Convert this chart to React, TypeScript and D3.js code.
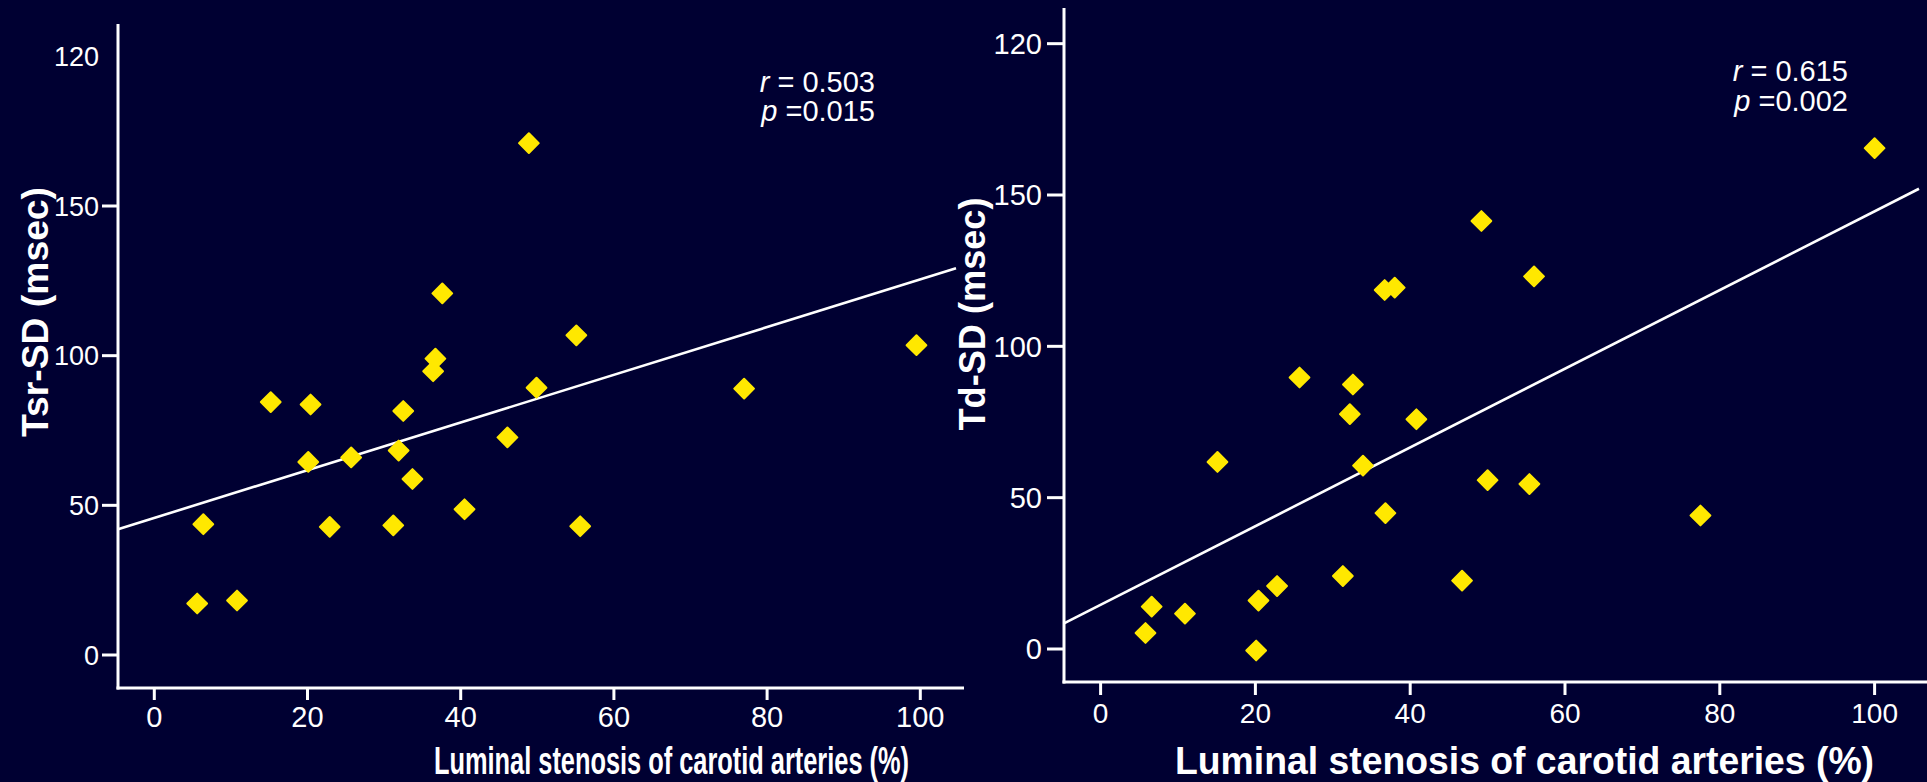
import React from "react";
import * as d3 from "d3";

// ---------- data ----------
const tsrStenosis = [48.9, 37.6, 55.1, 99.5, 36.7, 36.4, 49.9, 77.0, 15.2, 20.4, 32.5, 46.1, 31.9, 25.7, 20.1, 33.7, 40.5, 6.4, 22.9, 31.2, 55.6, 5.6, 10.8];
const tsrValues = [171, 120.8, 106.8, 103.5, 99, 94.8, 89.3, 89, 84.5, 83.7, 81.5, 72.7, 68.3, 66, 64.5, 58.8, 48.7, 43.7, 42.8, 43.3, 43, 17.2, 18.2];

const tdStenosis = [100.0, 49.2, 56.0, 36.7, 38.0, 25.7, 32.6, 32.2, 40.8, 15.1, 33.9, 50.0, 55.4, 36.8, 77.5, 31.3, 46.7, 22.8, 20.4, 6.6, 10.9, 5.8, 20.1];
const tdValues = [165.5, 141.4, 123.1, 118.6, 119.4, 89.7, 87.4, 77.6, 75.9, 61.8, 60.6, 55.8, 54.5, 44.9, 44.1, 24.1, 22.6, 20.8, 16.0, 14.0, 11.7, 5.3, -0.5];

// fitted regression lines [intercept, slope]
const tsrFit = [45.8, 0.797];
const tdFit = [14.6, 1.3];

const xTicks = [0, 20, 40, 60, 80, 100];
const yTicks = [0, 50, 100, 150, 200];
const yTickLabels = ["0", "50", "100", "150", "120"];

const tsrStats = ["0.503", "0.015"];
const tdStats = ["0.615", "0.002"];

const xTitle = "Luminal stenosis of carotid arteries (%)";
const tsrTitle = "Tsr-SD (msec)";
const tdTitle = "Td-SD (msec)";

// ---------- layout ----------
const W = 1927;
const H = 782;
const BG = "#000032";
const FG = "#ffffff";
const MARK = "#ffe800";
const FONT = "'Liberation Sans', Arial, Helvetica, sans-serif";

const panels = [
  {
    xs: tsrStenosis, ys: tsrValues, fit: tsrFit, stats: tsrStats, title: tsrTitle,
    xRange: [154.3, 920.3], yRange: [655, 206],
    axisX: 118, axisTop: 24, axisY: 688, axisRight: 964, fitRight: 956,
    yTickFont: 27, yLabelRight: 99, yTickMarkFrom: 102, topTickMark: false,
    xTickFont: 29, xLabelCenterY: 717, xTickLen: 12,
    yTitleX: 48, yTitleY: 312, yTitleLen: 250,
    xTitleX: 671.5, xTitleY: 774, xTitleLen: 475,
    statsX: 875, statsY: [92, 120.5], statsFont: 29,
  },
  {
    xs: tdStenosis, ys: tdValues, fit: tdFit, stats: tdStats, title: tdTitle,
    xRange: [1100.6, 1874.6], yRange: [649, 195],
    axisX: 1064, axisTop: 8, axisY: 682, axisRight: 1927, fitRight: 1919,
    yTickFont: 29, yLabelRight: 1042, yTickMarkFrom: 1047, topTickMark: true,
    xTickFont: 28, xLabelCenterY: 713, xTickLen: 13,
    yTitleX: 985, yTitleY: 314, yTitleLen: 233,
    xTitleX: 1524.5, xTitleY: 774, xTitleLen: 699,
    statsX: 1848, statsY: [80.5, 110.5], statsFont: 29,
  },
];

const diamond = d3.symbol(d3.symbolSquare, 195)() as string;

function Panel({ p }: { p: (typeof panels)[number] }) {
  const x = d3.scaleLinear().domain([0, 100]).range(p.xRange);
  const y = d3.scaleLinear().domain([0, 150]).range(p.yRange);
  const fitLine = d3
    .line<number>()
    .x((v) => x(v))
    .y((v) => y(p.fit[0] + p.fit[1] * v));
  const fitDomain = [x.invert(p.axisX), x.invert(p.fitRight)];

  return (
    <g>
      {/* regression line */}
      <path d={fitLine(fitDomain) ?? ""} stroke={FG} strokeWidth={2.6} fill="none" />

      {/* points */}
      {p.xs.map((xv, i) => (
        <path
          key={i}
          d={diamond}
          transform={`translate(${x(xv)},${y(p.ys[i])}) rotate(45)`}
          fill={MARK}
          stroke={MARK}
          strokeWidth={2}
          strokeLinejoin="round"
        />
      ))}

      {/* axes */}
      <line x1={p.axisX} x2={p.axisX} y1={p.axisTop} y2={p.axisY + 1.5} stroke={FG} strokeWidth={3} />
      <line x1={p.axisX - 1.5} x2={p.axisRight} y1={p.axisY} y2={p.axisY} stroke={FG} strokeWidth={3} />

      {/* y ticks */}
      {yTicks.map((t, i) => {
        const showMark = t !== 200 || p.topTickMark;
        const ty = y(t);
        return (
          <g key={t}>
            {showMark && (
              <line x1={p.yTickMarkFrom} x2={p.axisX} y1={ty} y2={ty} stroke={FG} strokeWidth={3} />
            )}
            <text
              x={p.yLabelRight}
              y={ty + 0.358 * p.yTickFont}
              textAnchor="end"
              fill={FG}
              fontSize={p.yTickFont}
              fontFamily={FONT}
            >
              {yTickLabels[i]}
            </text>
          </g>
        );
      })}

      {/* x ticks */}
      {xTicks.map((t) => (
        <g key={t}>
          <line x1={x(t)} x2={x(t)} y1={p.axisY} y2={p.axisY + p.xTickLen} stroke={FG} strokeWidth={3} />
          <text
            x={x(t)}
            y={p.xLabelCenterY + 0.358 * p.xTickFont}
            textAnchor="middle"
            fill={FG}
            fontSize={p.xTickFont}
            fontFamily={FONT}
          >
            {t}
          </text>
        </g>
      ))}

      {/* axis titles */}
      <text
        x={p.xTitleX}
        y={p.xTitleY}
        textAnchor="middle"
        fill={FG}
        fontSize={38}
        fontWeight="bold"
        fontFamily={FONT}
        textLength={p.xTitleLen}
        lengthAdjust="spacingAndGlyphs"
      >
        {xTitle}
      </text>
      <text
        transform={`translate(${p.yTitleX},${p.yTitleY}) rotate(-90)`}
        textAnchor="middle"
        fill={FG}
        fontSize={37}
        fontWeight="bold"
        fontFamily={FONT}
        textLength={p.yTitleLen}
        lengthAdjust="spacingAndGlyphs"
      >
        {p.title}
      </text>

      {/* statistics */}
      <text x={p.statsX} y={p.statsY[0]} textAnchor="end" fill={FG} fontSize={p.statsFont} fontFamily={FONT}>
        <tspan fontStyle="italic">r</tspan>
        {" = " + p.stats[0]}
      </text>
      <text x={p.statsX} y={p.statsY[1]} textAnchor="end" fill={FG} fontSize={p.statsFont} fontFamily={FONT}>
        <tspan fontStyle="italic">p</tspan>
        {" =" + p.stats[1]}
      </text>
    </g>
  );
}

export default function App() {
  return (
    <svg
      width={W}
      height={H}
      viewBox={`0 0 ${W} ${H}`}
      style={{ position: "absolute", left: 0, top: 0, display: "block" }}
    >
      <rect x={0} y={0} width={W} height={H} fill={BG} />
      {panels.map((p, i) => (
        <Panel key={i} p={p} />
      ))}
    </svg>
  );
}
